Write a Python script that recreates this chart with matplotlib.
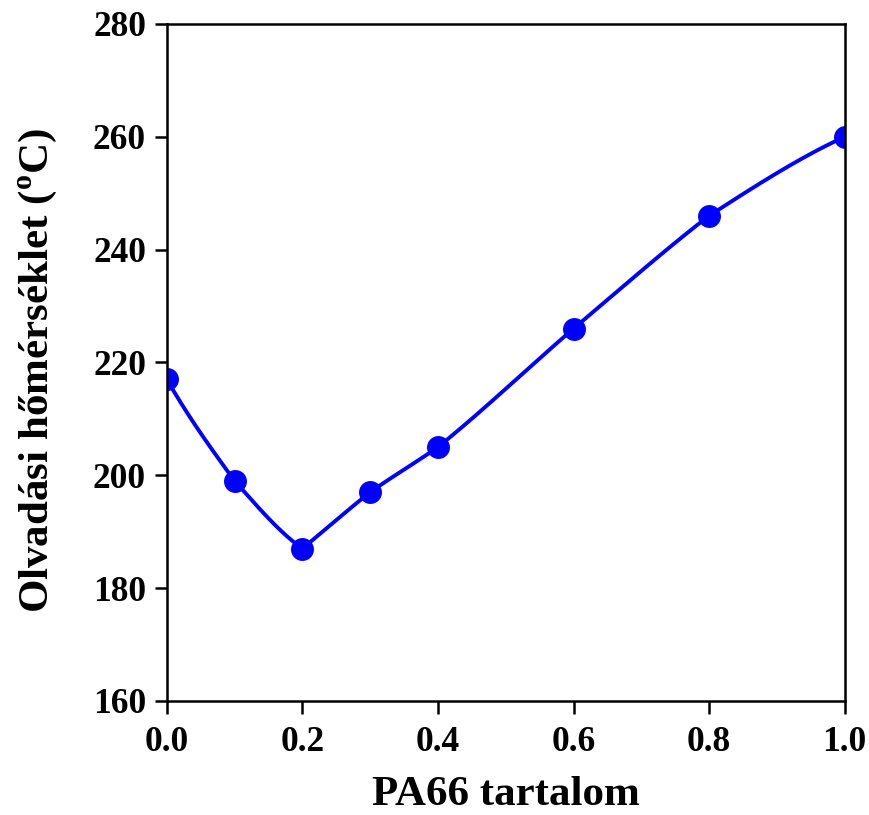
import numpy as np
import matplotlib
matplotlib.use("Agg")
import matplotlib.pyplot as plt

pa66_content = [0.0, 0.1, 0.2, 0.3, 0.4, 0.6, 0.8, 1.0]
melting_temp = [217, 199, 187, 197, 205, 226, 246, 260]
x_ticks = [0.0, 0.2, 0.4, 0.6, 0.8, 1.0]
y_ticks = [160, 180, 200, 220, 240, 260, 280]


def smooth_curve(x, y, npts=80, tension=0.5):
    """Cubic Hermite curve through the points; corner kept at local extrema."""
    x = np.asarray(x, float)
    y = np.asarray(y, float)
    h = np.diff(x)
    d = np.diff(y) / h
    n = len(x)
    mL = np.zeros(n)
    mR = np.zeros(n)
    for k in range(1, n - 1):
        if d[k - 1] * d[k] <= 0:
            mL[k] = 0.7 * d[k - 1]
            mR[k] = d[k]
        else:
            m = (h[k] * d[k - 1] + h[k - 1] * d[k]) / (h[k - 1] + h[k])
            mL[k] = mR[k] = m
    mR[0] = ((2 * h[0] + h[1]) * d[0] - h[0] * d[1]) / (h[0] + h[1])
    mL[-1] = ((2 * h[-1] + h[-2]) * d[-1] - h[-1] * d[-2]) / (h[-1] + h[-2])
    xs, ys = [], []
    t = np.linspace(0, 1, npts)
    for i in range(n - 1):
        a = mR[i]
        b = mL[i + 1]
        interior_a = 0 < i and d[i - 1] * d[i] > 0
        interior_b = i + 1 < n - 1 and d[i] * d[i + 1] > 0
        if interior_a:
            a = d[i] + tension * (a - d[i])
        if interior_b:
            b = d[i] + tension * (b - d[i])
        h00 = 2 * t**3 - 3 * t**2 + 1
        h10 = t**3 - 2 * t**2 + t
        h01 = -2 * t**3 + 3 * t**2
        h11 = t**3 - t**2
        yy = h00 * y[i] + h10 * h[i] * a + h01 * y[i + 1] + h11 * h[i] * b
        xx = x[i] + t * h[i]
        s = slice(0 if i == 0 else 1, None)
        xs.append(xx[s])
        ys.append(yy[s])
    return np.concatenate(xs), np.concatenate(ys)


plt.rcParams['font.family'] = ['Liberation Serif', 'DejaVu Serif']
plt.rcParams['mathtext.fontset'] = 'custom'
plt.rcParams['mathtext.rm'] = 'Liberation Serif:bold'
plt.rcParams['mathtext.bf'] = 'Liberation Serif:bold'

fig = plt.figure(figsize=(8.69, 8.15), dpi=100)
ax = fig.add_axes([0.192, 0.140, 0.780, 0.8306])

xs, ys = smooth_curve(pa66_content, melting_temp)
ax.plot(xs, ys, color='#0000ff', lw=2.8, zorder=2)
ax.plot(pa66_content, melting_temp, 'o', color='#0000ff', ms=15.5, zorder=3)

ax.set_xlim(0, 1)
ax.set_ylim(160, 280)
ax.set_xticks(x_ticks)
ax.set_yticks(y_ticks)
ax.set_xticklabels([f"{v:.1f}" for v in x_ticks])
ax.set_yticklabels([str(v) for v in y_ticks])
ax.tick_params(direction='out', length=9, width=1.8, labelsize=25.5)
ax.tick_params(axis='x', pad=9)
ax.tick_params(axis='y', pad=6)
for lab in ax.get_xticklabels() + ax.get_yticklabels():
    lab.set_fontweight('bold')
for s in ax.spines.values():
    s.set_linewidth(1.8)
    s.set_zorder(4)

ax.set_xlabel('PA66 tartalom', fontsize=31, fontweight='bold', labelpad=12)
ax.set_ylabel(r'Olvadási hőmérséklet ($^\mathregular{o}$C)', fontsize=31, fontweight='bold', labelpad=24)
ax.yaxis.label.set_y(0.488)

fig.savefig('out.png', dpi=100)
